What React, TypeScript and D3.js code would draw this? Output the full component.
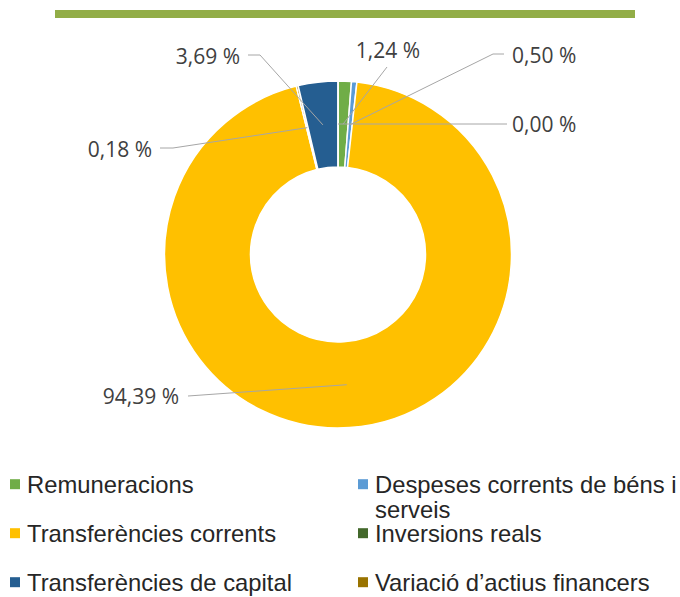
import React from "react";
import * as d3 from "d3";

// Legend order
const categories = [
  "Remuneracions",
  "Despeses corrents de béns i serveis",
  "Transferències corrents",
  "Inversions reals",
  "Transferències de capital",
  "Variació d’actius financers",
];
const values = [1.24, 0.5, 94.39, 0.0, 3.69, 0.18];
const colors = ["#70ad47", "#5b9bd5", "#ffc000", "#43682b", "#255e91", "#997300"];
const valueLabels = ["1,24 %", "0,50 %", "94,39 %", "0,00 %", "3,69 %", "0,18 %"];
// Order in which slices are drawn clockwise from 12 o'clock
const sliceOrder = [0, 1, 2, 5, 4, 3];

// Label layout per category index (text x, baseline y, anchor, leader points)
const labelLayout: Record<number, { x: number; y: number; anchor: string; pts: [number, number][] }> = {
  0: { x: 388, y: 58, anchor: "middle", pts: [[387, 67]] },
  1: { x: 512, y: 63, anchor: "start", pts: [[493, 54], [504, 54]] },
  2: { x: 179, y: 404, anchor: "end", pts: [[188, 396]] },
  3: { x: 512, y: 132, anchor: "start", pts: [[507, 124]] },
  4: { x: 240, y: 64, anchor: "end", pts: [[260, 55], [248, 55]] },
  5: { x: 152, y: 157, anchor: "end", pts: [[173, 148], [160, 148]] },
};

const legendLayout = [
  { col: 0, row: 0 },
  { col: 1, row: 0 },
  { col: 0, row: 1 },
  { col: 1, row: 1 },
  { col: 0, row: 2 },
  { col: 1, row: 2 },
];

export default function App() {
  const W = 680, H = 597;
  const cx = 338, cy = 254.5;
  const rOuter = 173.5, rInner = 87.5;

  const ordered = sliceOrder.map((i) => ({ i, v: values[i] }));
  const pie = d3.pie<{ i: number; v: number }>().value((d) => d.v).sort(null);
  const arcs = pie(ordered);
  const arc = d3.arc<d3.PieArcDatum<{ i: number; v: number }>>().innerRadius(rInner).outerRadius(rOuter);

  const colX = [10, 358];
  const rowBase = [492.7, 541.7, 590.7];

  return (
    <svg
      width={W}
      height={H}
      style={{ position: "absolute", left: 0, top: 0, background: "#fff" }}
      xmlns="http://www.w3.org/2000/svg"
    >
      <rect x={55} y={10} width={580} height={8} fill="#92ad47" />
      <g transform={`translate(${cx},${cy})`}>
        {arcs.map((a) => (
          <path key={a.data.i} d={arc(a) || ""} fill={colors[a.data.i]} stroke="#fff" strokeWidth={1.5} />
        ))}
      </g>
      {arcs.map((a) => {
        const [mx, my] = arc.centroid(a);
        const L = labelLayout[a.data.i];
        const pts: [number, number][] = [[cx + mx, cy + my], ...L.pts];
        const line = d3.line()(pts) || "";
        return (
          <g key={"l" + a.data.i}>
            <path d={line} fill="none" stroke="#a6a6a6" strokeWidth={1} />
            <text
              x={L.x}
              y={L.y}
              textAnchor={L.anchor as any}
              fontFamily="'Open Sans', sans-serif"
              fontSize={21}
              fill="#404040"
            >
              {valueLabels[a.data.i]}
            </text>
          </g>
        );
      })}
      {categories.map((c, i) => {
        const { col, row } = legendLayout[i];
        const x = colX[col];
        const base = rowBase[row];
        const words = c === "Despeses corrents de béns i serveis" ? ["Despeses corrents de béns i", "serveis"] : [c];
        return (
          <g key={"lg" + i}>
            <rect x={x} y={base - 13.5} width={10} height={10} fill={colors[i]} />
            <text
              x={x + 17}
              y={base}
              fontFamily="'Liberation Sans', Arial, sans-serif"
              fontSize={23.8}
              fill="#262626"
            >
              {words.map((w, k) => (
                <tspan key={k} x={x + 17} dy={k === 0 ? 0 : 25}>
                  {w}
                </tspan>
              ))}
            </text>
          </g>
        );
      })}
    </svg>
  );
}
